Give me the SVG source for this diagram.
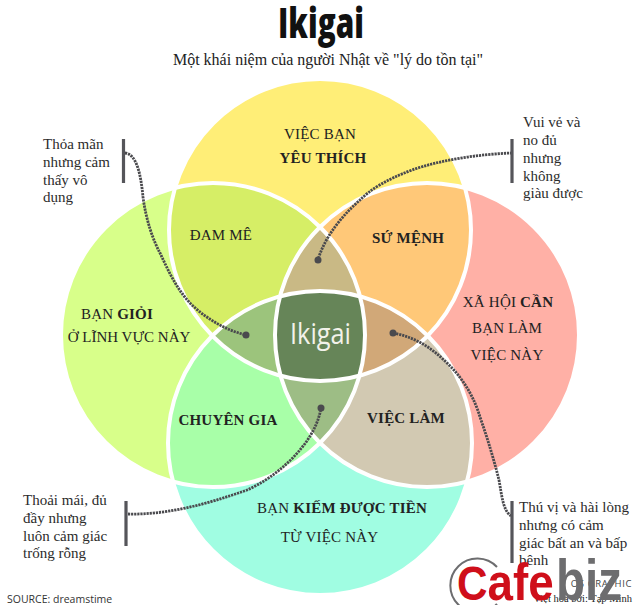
<svg xmlns="http://www.w3.org/2000/svg" width="640" height="605" viewBox="0 0 640 605">
<defs>
<style>
text{font-family:"Liberation Serif","Noto Sans CJK SC",serif;fill:#222}
.c{text-anchor:middle;font-size:15px;letter-spacing:.2px}
.b{font-weight:bold}
.n{font-size:15px;fill:#2c2c2c}
.ring{fill:none;stroke:#fff;stroke-width:4}
.link{fill:none;stroke:#4a4a4e;stroke-width:2.8;stroke-dasharray:2.2 .9}
.bar{fill:none;stroke:#55555a;stroke-width:3.2}
.dot{fill:#4a4a4e}
.s{font-family:"Open Sans","Liberation Sans",sans-serif}
</style>
<circle id="T" cx="320" cy="230" r="151"/>
<circle id="L" cx="213" cy="335" r="152"/>
<circle id="R" cx="427" cy="335" r="152"/>
<circle id="B" cx="320" cy="443" r="152"/>
<clipPath id="cT"><use href="#T"/></clipPath>
<clipPath id="cL"><use href="#L"/></clipPath>
<clipPath id="cR"><use href="#R"/></clipPath>
<clipPath id="cB"><use href="#B"/></clipPath>
</defs>
<rect width="640" height="605" fill="#fff"/>
<g id="title">
<text class="s" x="321" y="38" text-anchor="middle" style="font-weight:800;font-size:43px;fill:#111" textLength="86" lengthAdjust="spacingAndGlyphs">Ikigai</text>
<text x="328" y="65" text-anchor="middle" font-size="16">Một khái niệm của người Nhật về "lý do tồn tại"</text>
</g>
<g id="circles">
<use id="circle-top" href="#T" fill="#ffee77"/>
<use id="circle-left" href="#L" fill="#d8ff8a"/>
<use id="circle-right" href="#R" fill="#ffb0a6"/>
<use id="circle-bottom" href="#B" fill="#a0fde2"/>
</g>
<g id="overlaps">
<g clip-path="url(#cT)"><use href="#L" fill="#d6ee66"/><use href="#R" fill="#ffc878"/></g>
<g clip-path="url(#cB)"><use href="#L" fill="#a8ffa8"/><use href="#R" fill="#d2c9b2"/></g>
<g clip-path="url(#cL)"><g clip-path="url(#cR)"><use href="#T" fill="#c9b985"/><use href="#B" fill="#9dbd85"/></g></g>
<g clip-path="url(#cT)"><g clip-path="url(#cB)"><use href="#L" fill="#9cc47c"/><use href="#R" fill="#d1a878"/></g></g>
<g clip-path="url(#cT)"><g clip-path="url(#cB)"><g clip-path="url(#cL)"><use href="#R" fill="#668558"/></g></g></g>
</g>
<g id="rings">
<use href="#T" class="ring"/><use href="#L" class="ring"/><use href="#R" class="ring"/><use href="#B" class="ring"/>
</g>
<g id="connectors">
<path class="link" d="M125 153C137 154 141 176 143 197C146 220 153 240 160 253C168 270 176 288 190 303C205 318 225 330 246 335"/>
<path class="link" d="M512 153C480 154 440 160 412 170C385 180 370 190 360 200C345 213 325 235 318 260"/>
<path class="link" d="M128 514C165 515 205 505 247 490C275 478 315 445 321 408"/>
<path class="link" d="M393 333C415 337 432 348 447 363C465 380 475 400 480 417C488 440 494 460 499 480C502 497 503 510 511 516"/>
<circle class="dot" cx="246" cy="335" r="3.500"/>
<circle class="dot" cx="318" cy="260" r="3.500"/>
<circle class="dot" cx="321" cy="408" r="3.500"/>
<circle class="dot" cx="393" cy="333" r="3.500"/>
<path class="bar" d="M123.500 139V183M512 139V183M126 501V546M512 501V563"/>
</g>
<g id="node-top"><text class="c" x="320" y="139">VIỆC BẠN</text><text class="c b" x="323" y="163">YÊU THÍCH</text></g>
<g id="node-left"><text class="c" x="117" y="319">BẠN <tspan class="b">GIỎI</tspan></text><text class="c" x="129" y="342" style="letter-spacing:0">Ở LĨNH VỰC NÀY</text></g>
<g id="node-right"><text class="c" x="508" y="307">XÃ HỘI <tspan class="b">CẦN</tspan></text><text class="c" x="507" y="333">BẠN LÀM</text><text class="c" x="507" y="360">VIỆC NÀY</text></g>
<g id="node-bottom"><text class="c" x="342" y="513">BẠN <tspan class="b">KIẾM ĐƯỢC TIỀN</tspan></text><text class="c" x="329.500" y="542">TỪ VIỆC NÀY</text></g>
<g id="node-passion"><text class="c" x="221" y="240">ĐAM MÊ</text></g>
<g id="node-mission"><text class="c b" x="408" y="243">SỨ MỆNH</text></g>
<g id="node-expert"><text class="c b" x="228" y="425">CHUYÊN GIA</text></g>
<g id="node-job"><text class="c b" x="406" y="423">VIỆC LÀM</text></g>
<g id="node-center"><text class="s" x="320.500" y="344" text-anchor="middle" style="font-size:30px;fill:#f2f2ea" textLength="61" lengthAdjust="spacingAndGlyphs">Ikigai</text></g>
<g id="note-tl"><text class="n" x="43" y="149">Thỏa mãn</text><text class="n" x="43" y="167">nhưng cảm</text><text class="n" x="43" y="185">thấy vô</text><text class="n" x="43" y="202">dụng</text></g>
<g id="note-tr"><text class="n" x="523" y="127">Vui vẻ và</text><text class="n" x="523" y="145">no đủ</text><text class="n" x="523" y="163">nhưng</text><text class="n" x="523" y="181">không</text><text class="n" x="523" y="198">giàu được</text></g>
<g id="note-bl"><text class="n" x="23" y="505">Thoải mái, đủ</text><text class="n" x="23" y="523">đầy nhưng</text><text class="n" x="23" y="541">luôn cảm giác</text><text class="n" x="23" y="558">trống rỗng</text></g>
<g id="note-br"><text class="n" x="519" y="512">Thú vị và hài lòng</text><text class="n" x="519" y="530">nhưng có cảm</text><text class="n" x="519" y="548">giác bất an và bấp</text><text class="n" x="519" y="565">bênh</text></g>
<text class="s" x="7" y="603" style="font-size:10.500px;fill:#333">SOURCE: dreamstime</text>
<g id="credit">
<text class="s" x="632" y="587" text-anchor="end" style="font-size:9.500px;fill:#444;letter-spacing:.6px">OS GRAPHIC</text>
<text x="632" y="602" text-anchor="end" font-size="10.500">Việt hóa bởi: Tạp Minh</text>
</g>
<g id="logo">
<path d="M497 567A27 27 0 1 0 497 604" fill="none" stroke="#6d6d6f" stroke-width="2"/>
<text transform="translate(457 600) scale(.88 1)" style="font-family:'Liberation Sans',sans-serif;font-weight:bold;fill:#cf0f1a"><tspan font-size="48">C</tspan><tspan font-size="52">afe</tspan></text>
<text transform="translate(556 600) scale(.82 1)" style="font-family:'Liberation Sans',sans-serif;font-weight:bold;font-size:58px;fill:#6d6d6f">biz</text>
</g>
</svg>
